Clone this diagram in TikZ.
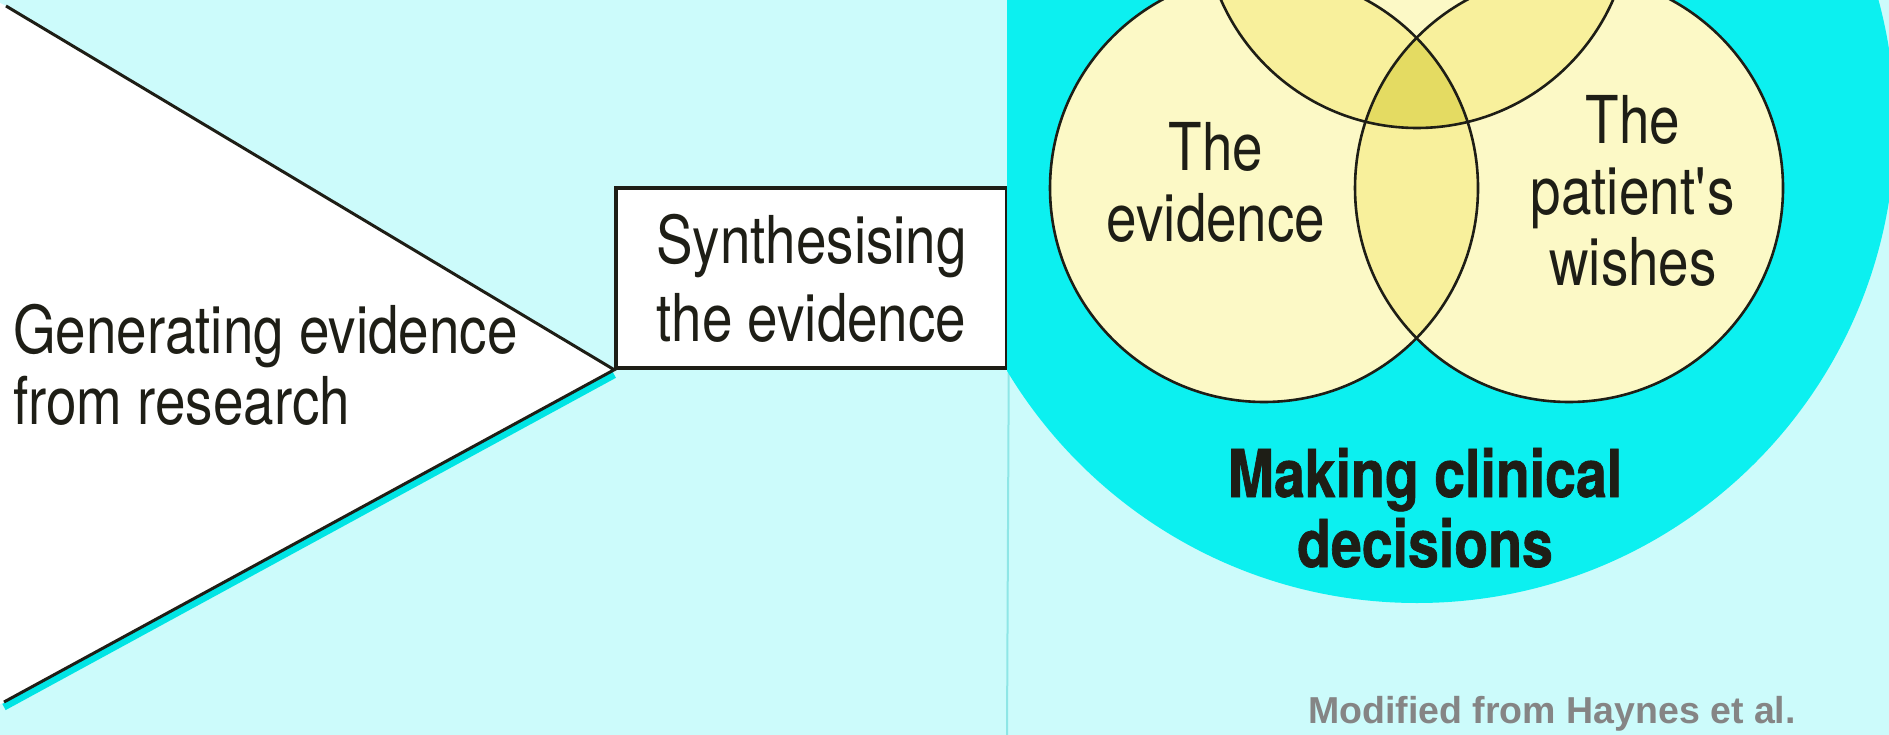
\documentclass[tikz,border=0pt]{standalone}
\usepackage{fontspec}
\setmainfont{TeX Gyre Heros}[FakeStretch=0.83]
\newfontfamily\heavyfont{TeX Gyre Heros}[FakeStretch=0.84,FakeBold=1]
\newfontfamily\notefont{Liberation Sans}
\usepackage{xcolor}
\usepackage{tikz}
\definecolor{PanelCyan}{HTML}{CCFBFB}
\definecolor{DiscCyan}{HTML}{0CF0F0}
\definecolor{ShadowCyan}{HTML}{00E4E4}
\definecolor{RuleCyan}{HTML}{8EE6E6}
\definecolor{VennPale}{HTML}{FCF9C6}
\definecolor{VennMid}{HTML}{F8F09C}
\definecolor{VennDeep}{HTML}{E4DB62}
\definecolor{InkDark}{HTML}{1E1E16}
\definecolor{NoteGray}{HTML}{858585}
\tikzset{
  stage/.style={
    draw=InkDark,
    line width=3.5pt,
    fill=white,
    align=center,
    inner sep=0pt,
    text=InkDark,
    font=\fontsize{66}{78}\selectfont
  },
  fanedge/.style={
    draw=InkDark,
    line width=3pt
  },
  fanshadow/.style={
    draw=ShadowCyan,
    line width=7pt
  },
  vennline/.style={
    draw=InkDark,
    line width=2.6pt
  },
  venntext/.style={
    align=center,
    anchor=base,
    inner sep=0pt,
    text=InkDark,
    font=\fontsize{66}{71}\selectfont
  },
  decision/.style={
    venntext,
    font=\heavyfont\bfseries\fontsize{66}{70}\selectfont
  },
  source/.style={
    anchor=base west,
    inner sep=0pt,
    text=NoteGray,
    font=\notefont\bfseries\fontsize{37.5}{40}\selectfont
  }
}

\begin{document}
\begin{tikzpicture}[x=1pt,y=-1pt]

  \useasboundingbox (0,0) rectangle (1889,735);
  \fill[PanelCyan] (0,0) rectangle (1889,735);

  \node[
    stage,
    minimum width=391pt,
    minimum height=180pt
  ] (synth) at (811.5,278) {
    Synthesising\\the evidence
  };

  \coordinate (fanTop) at (6,6);
  \coordinate (fanBottom) at (4,702);
  \coordinate (ruleEnd) at (1007,735);

  % evidence fan
  \fill[white] (0,3) -- (fanTop) -- (synth.south west) -- (fanBottom) -- (0,704) -- cycle;
  \draw[fanshadow] ([yshift=-5pt]synth.south west) -- ([yshift=-5pt]fanBottom);
  \draw[fanedge] (fanTop) -- (synth.south west) -- (fanBottom);

  \draw[RuleCyan, line width=2pt] (synth.south east) -- (ruleEnd);

  % decision disc
  \coordinate (discCentre) at (1417,125);
  \begin{scope}
    \clip (1007,0) rectangle (1889,735);
    \fill[DiscCyan] (discCentre) circle[radius=478pt];
  \end{scope}

  % venn
  \coordinate (evidenceCentre) at (1264,188);
  \coordinate (wishesCentre) at (1569,188);
  \coordinate (topCentre) at (1417,-86);

  \foreach \c in {evidenceCentre,wishesCentre,topCentre}
    \fill[VennPale] (\c) circle[radius=214pt];

  \begin{scope}
    \clip (evidenceCentre) circle[radius=214pt];
    \fill[VennMid] (wishesCentre) circle[radius=214pt];
    \fill[VennMid] (topCentre) circle[radius=214pt];
  \end{scope}
  \begin{scope}
    \clip (wishesCentre) circle[radius=214pt];
    \fill[VennMid] (topCentre) circle[radius=214pt];
  \end{scope}
  \begin{scope}
    \clip (evidenceCentre) circle[radius=214pt];
    \clip (wishesCentre) circle[radius=214pt];
    \fill[VennDeep] (topCentre) circle[radius=214pt];
  \end{scope}

  \foreach \c in {evidenceCentre,wishesCentre,topCentre}
    \draw[vennline] (\c) circle[radius=214pt];

  \node[
    venntext,
    anchor=base west,
    align=left
  ] (generatingText) at (13,424) {
    Generating evidence\\from research
  };

  \node[venntext] (evidenceText) at (1216,242) {
    The\\evidence
  };

  \node[venntext] (wishesText) at (1633,285) {
    The\\patient\textquotesingle s\\wishes
  };

  \node[decision] (decisionText) at (1425,567) {
    Making clinical\\decisions
  };

  \node[source] (sourceNote) at (1308,723) {
    Modified from Haynes et al.
  };

\end{tikzpicture}
\end{document}
